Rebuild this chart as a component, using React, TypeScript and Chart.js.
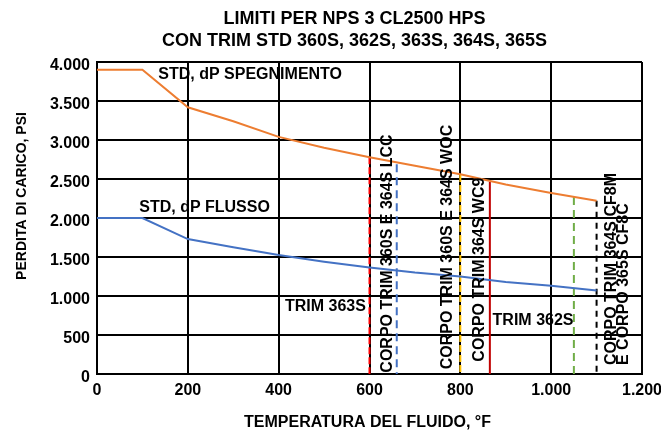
import React, { useEffect, useRef } from "react";
import { Chart, registerables } from "chart.js";

Chart.register(...registerables);

const titleLines = ["LIMITI PER NPS 3 CL2500 HPS", "CON TRIM STD 360S, 362S, 363S, 364S, 365S"];
const xAxisTitle = "TEMPERATURA DEL FLUIDO, °F";
const yAxisTitle = "PERDITA DI CARICO, PSI";

const temperatures = [0, 100, 200, 300, 400, 500, 600, 700, 800, 900, 1000, 1100];
const spegnimento = [3900, 3900, 3420, 3240, 3040, 2900, 2780, 2670, 2560, 2430, 2320, 2220];
const flusso = [2000, 2000, 1730, 1625, 1525, 1440, 1365, 1300, 1250, 1180, 1130, 1070];

const limitTemps = [600, 660, 800, 865, 1050, 1100];
const limitTops = [2780, 2690, 2550, 2460, 2270, 2220];

const xMin = 0;
const xMax = 1200;
const xStep = 200;
const yMin = 0;
const yMax = 4000;
const yStep = 500;

const seriesLabels = ["STD, dP SPEGNIMENTO", "STD, dP FLUSSO"];
const seriesLabelX = [135, 93];
const seriesLabelY = [3840, 2134];

const trimLabels = ["TRIM 363S", "TRIM 362S"];
const trimLabelX = [592, 871];
const trimLabelY = [869, 682];
const trimLabelAlign = ["right", "left"];

const bodyLabels = [
  "CORPO TRIM 360S E 364S LCC",
  "CORPO TRIM 360S E 364S WOC",
  "CORPO TRIM 364S WC9",
  "CORPO TRIM 364S CF8M",
  "E CORPO 365S CF8C",
];
const bodyLabelX = [640, 771, 842, 1132, 1160];
const bodyLabelY = [17, 60, 158, 115, 115];

const limitStyles = [
  { color: "#FF0000", dash: [7, 3] },
  { color: "#4472C4", dash: [8, 5] },
  { color: "#FFC000", dash: [7, 3] },
  { color: "#C00000", dash: [] },
  { color: "#70AD47", dash: [8, 5] },
  { color: "#000000", dash: [6, 5] },
];

const FONT = "'Liberation Sans', Arial, Helvetica, sans-serif";

const fmt = (v: number) => String(v).replace(/\B(?=(\d{3})+(?!\d))/g, ".");

const textPlugin = {
  id: "textPlugin",
  afterDatasetsDraw(chart: any) {
    const ctx = chart.ctx;
    const xs = chart.scales.x;
    const ys = chart.scales.y;
    const ca = chart.chartArea;
    ctx.save();
    ctx.fillStyle = "#000";
    // title
    ctx.font = `bold 18px ${FONT}`;
    ctx.textAlign = "center";
    ctx.textBaseline = "middle";
    const tx = (ca.left + ca.right) / 2 - 15;
    ctx.fillText(titleLines[0], tx, 19);
    ctx.fillText(titleLines[1], tx, 41);
    // x axis title
    ctx.font = `bold 16px ${FONT}`;
    ctx.fillText(xAxisTitle, (ca.left + ca.right) / 2 - 2, 423);
    // y axis title
    ctx.save();
    ctx.font = `bold 14px ${FONT}`;
    ctx.translate(22, (ca.top + ca.bottom) / 2 - 22);
    ctx.rotate(-Math.PI / 2);
    ctx.fillText(yAxisTitle, 0, 0);
    ctx.restore();

    ctx.font = `bold 16px ${FONT}`;
    ctx.textBaseline = "middle";
    seriesLabels.forEach((t, i) => {
      ctx.textAlign = "left";
      ctx.fillText(t, xs.getPixelForValue(seriesLabelX[i]), ys.getPixelForValue(seriesLabelY[i]));
    });
    trimLabels.forEach((t, i) => {
      ctx.textAlign = trimLabelAlign[i];
      ctx.fillText(t, xs.getPixelForValue(trimLabelX[i]), ys.getPixelForValue(trimLabelY[i]));
    });
    bodyLabels.forEach((t, i) => {
      ctx.save();
      ctx.translate(xs.getPixelForValue(bodyLabelX[i]), ys.getPixelForValue(bodyLabelY[i]));
      ctx.rotate(-Math.PI / 2);
      ctx.textAlign = "left";
      ctx.textBaseline = "middle";
      ctx.fillText(t, 0, 0);
      ctx.restore();
    });
    ctx.restore();
  },
};

export default function App() {
  const ref = useRef<HTMLCanvasElement | null>(null);
  useEffect(() => {
    if (!ref.current) return;
    const limitSets = limitTemps.map((t, i) => ({
      label: "limit" + i,
      data: [
        { x: t, y: limitTops[i] },
        { x: t, y: 0 },
      ],
      borderColor: limitStyles[i].color,
      borderDash: limitStyles[i].dash,
      borderWidth: 2,
      pointRadius: 0,
      fill: false,
    }));
    const chart = new Chart(ref.current, {
      type: "line",
      data: {
        datasets: [
          {
            label: seriesLabels[0],
            data: temperatures.map((t, i) => ({ x: t, y: spegnimento[i] })),
            borderColor: "#ED7D31",
            borderWidth: 2,
            pointRadius: 0,
            tension: 0,
          },
          {
            label: seriesLabels[1],
            data: temperatures.map((t, i) => ({ x: t, y: flusso[i] })),
            borderColor: "#4472C4",
            borderWidth: 2,
            pointRadius: 0,
            tension: 0,
          },
          ...limitSets,
        ],
      },
      options: {
        responsive: false,
        animation: false,
        layout: { padding: { left: 0, top: 62, right: 19, bottom: 0 } },
        plugins: { legend: { display: false }, title: { display: false }, tooltip: { enabled: false } },
        scales: {
          x: {
            type: "linear",
            min: xMin,
            max: xMax,
            afterFit: (s: any) => {
              s.height = 58;
              s.paddingRight = 0;
              s.paddingLeft = 0;
            },
            ticks: {
              stepSize: xStep,
              color: "#000",
              padding: 7,
              maxRotation: 0,
              font: { family: FONT, size: 16, weight: "bold" },
              callback: (v: any) => fmt(Number(v)),
            },
            grid: { color: "#000", lineWidth: 2, drawTicks: false },
            border: { color: "#000", width: 2 },
          },
          y: {
            type: "linear",
            min: yMin,
            max: yMax,
            afterFit: (s: any) => {
              s.width = 97;
              s.paddingTop = 0;
              s.paddingBottom = 0;
            },
            ticks: {
              stepSize: yStep,
              color: "#000",
              padding: 7,
              labelOffset: 4,
              font: { family: FONT, size: 16, weight: "bold" },
              callback: (v: any) => fmt(Number(v)),
            },
            grid: { color: "#000", lineWidth: 2, drawTicks: false },
            border: { color: "#000", width: 2 },
          },
        },
      },
      plugins: [textPlugin],
    });
    return () => chart.destroy();
  }, []);
  return (
    <div style={{ position: "fixed", left: 0, top: 0, width: 661, height: 432, background: "#fff" }}>
      <canvas ref={ref} width={661} height={432} style={{ display: "block" }} />
    </div>
  );
}
